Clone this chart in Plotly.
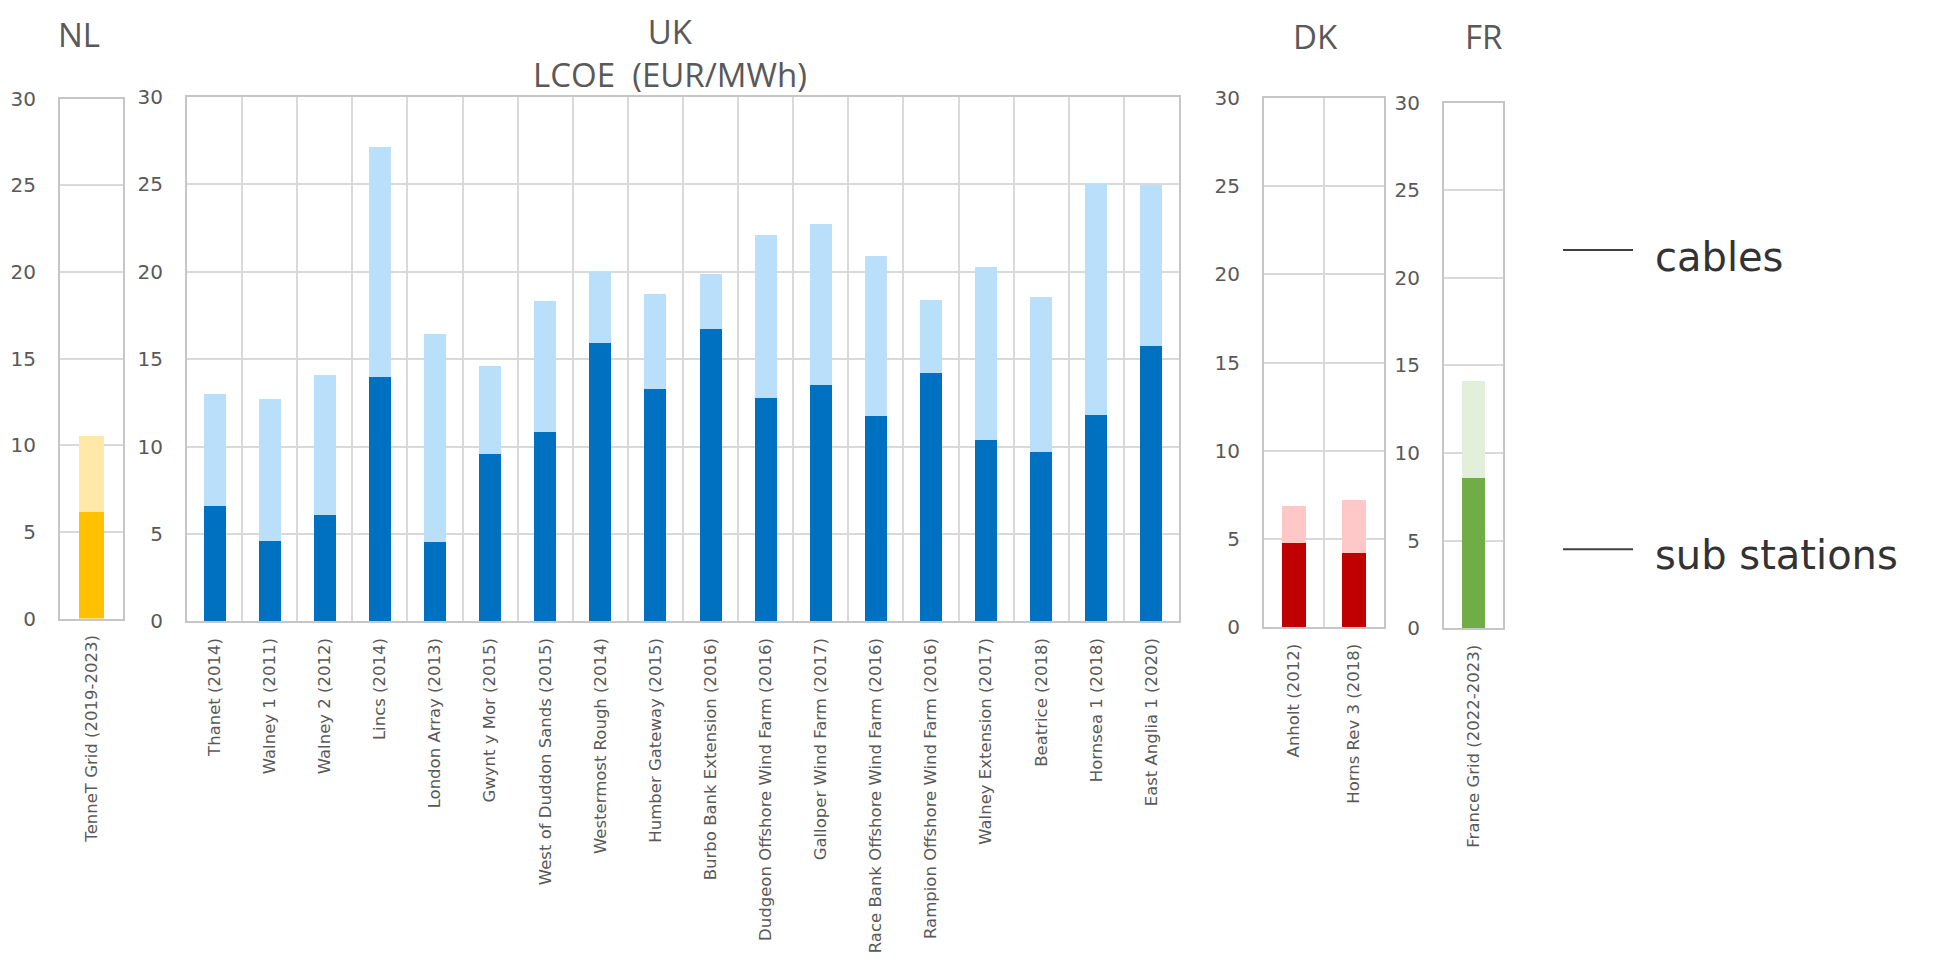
import plotly.graph_objects as go

W, H = 1941, 966

# ---------------- data ----------------
nl_cats = ["TenneT Grid (2019-2023)"]
nl_sub = [6.15]
nl_cab = [4.4]

uk_cats = ["Thanet (2014)", "Walney 1 (2011)", "Walney 2 (2012)", "Lincs (2014)",
           "London Array (2013)", "Gwynt y Mor (2015)", "West of Duddon Sands (2015)",
           "Westermost Rough (2014)", "Humber Gateway (2015)", "Burbo Bank Extension (2016)",
           "Dudgeon Offshore Wind Farm (2016)", "Galloper Wind Farm (2017)",
           "Race Bank Offshore Wind Farm (2016)", "Rampion Offshore Wind Farm (2016)",
           "Walney Extension (2017)", "Beatrice (2018)", "Hornsea 1 (2018)", "East Anglia 1 (2020)"]
uk_sub = [6.6, 4.6, 6.1, 14.0, 4.55, 9.6, 10.85, 15.9, 13.3, 16.7, 12.8, 13.55, 11.75, 14.2, 10.35, 9.7, 11.8, 15.75]
uk_cab = [6.4, 8.1, 8.0, 13.15, 11.9, 5.0, 7.45, 4.15, 5.45, 3.15, 9.3, 9.2, 9.15, 4.2, 9.9, 8.85, 13.3, 9.2]

dk_cats = ["Anholt (2012)", "Horns Rev 3 (2018)"]
dk_sub = [4.75, 4.2]
dk_cab = [2.1, 3.0]

fr_cats = ["France Grid (2022-2023)"]
fr_sub = [8.55]
fr_cab = [5.55]

y_ticks = [0, 5, 10, 15, 20, 25, 30]

panels = [
    ("NL", nl_cats, nl_sub, nl_cab, "#FFC000", "#FFE8A8", (60, 123, 89, 622)),
    ("UK", uk_cats, uk_sub, uk_cab, "#0070C0", "#BADFFB", (187, 1179, 87, 625)),
    ("DK", dk_cats, dk_sub, dk_cab, "#C00000", "#FFC8C8", (1264, 1384, 88, 631)),
    ("FR", fr_cats, fr_sub, fr_cab, "#70AD47", "#E2EFDA", (1444, 1503, 93, 632)),
]

fig = go.Figure()
layout = {}
for i, (name, cats, sub, cab, dark, light, box) in enumerate(panels):
    k = "" if i == 0 else str(i + 1)
    x0, x1, yt, yb = box
    fig.add_trace(go.Bar(x=cats, y=sub, marker=dict(color=dark, line=dict(width=0)),
                         name="sub stations", xaxis="x" + k, yaxis="y" + k,
                         showlegend=False, hoverinfo="x+y"))
    fig.add_trace(go.Bar(x=cats, y=cab, marker=dict(color=light, line=dict(width=0)),
                         name="cables", xaxis="x" + k, yaxis="y" + k,
                         showlegend=False, hoverinfo="x+y"))
    layout["xaxis" + k] = dict(
        domain=[x0 / W, x1 / W], anchor="y" + k, type="category",
        range=[-0.5, len(cats) - 0.5], tickson="boundaries", ticks="",
        showgrid=True, gridcolor="#D9D9D9", gridwidth=2,
        showline=True, linecolor="#C6C6C6", linewidth=2, mirror=True,
        tickangle=-90, ticklabelstandoff=8,
        tickfont=dict(family="DejaVu Sans", size=16.5, color="#595959"),
        fixedrange=True,
    )
    layout["yaxis" + k] = dict(
        domain=[1 - yb / H, 1 - yt / H], anchor="x" + k,
        range=[0, 30], tickvals=y_ticks, ticks="",
        showgrid=True, gridcolor="#D9D9D9", gridwidth=2, zeroline=False,
        showline=True, linecolor="#C6C6C6", linewidth=2, mirror=True,
        ticklabelstandoff=18,
        tickfont=dict(family="DejaVu Sans", size=20, color="#595959"),
        fixedrange=True,
    )

title_font = dict(family="Open Sans", size=33, color="#595959")
legend_font = dict(family="DejaVu Sans", size=40, color="#333333")


def ann(text, x, y, font, xanchor="center"):
    return dict(text=text, x=x / W, y=1 - y / H, xref="paper", yref="paper",
                showarrow=False, font=font, xanchor=xanchor, yanchor="middle",
                align="center")


annotations = [
    ann("NL", 79, 23, title_font),
    ann("UK<br>LCOE  (EUR/MWh)", 670, 42, title_font),
    ann("DK", 1315, 25, title_font),
    ann("FR", 1483, 25, title_font),
    ann("cables", 1653, 251, legend_font, "left"),
    ann("sub stations", 1653, 557, legend_font, "left"),
]

shapes = [
    dict(type="line", xref="paper", yref="paper", x0=1563 / W, x1=1633 / W,
         y0=1 - 244 / H, y1=1 - 244 / H, line=dict(color="#404040", width=2)),
    dict(type="line", xref="paper", yref="paper", x0=1563 / W, x1=1633 / W,
         y0=1 - 551 / H, y1=1 - 551 / H, line=dict(color="#404040", width=2)),
]

fig.update_layout(
    width=W, height=H, barmode="stack", bargap=0.6,
    margin=dict(l=0, r=0, t=0, b=0),
    paper_bgcolor="white", plot_bgcolor="white",
    annotations=annotations, shapes=shapes, showlegend=False,
    **layout,
)

fig.write_html("out.html", config={"displayModeBar": False})
